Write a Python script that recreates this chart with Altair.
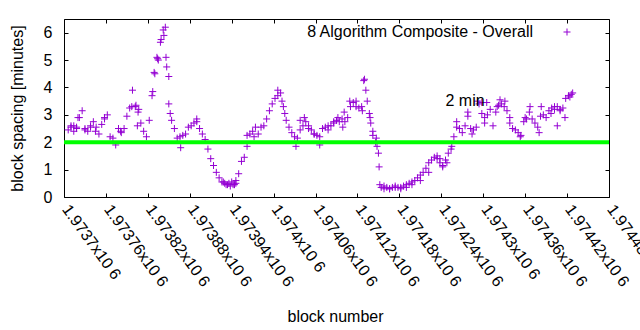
import altair as alt
import pandas as pd

# ---- data ----
block_start = 1973706
block_step = 4
main_spacing = [
    2.45, 2.55, 2.6, 2.5, 2.9, 3.15, 2.45, 2.4, 2.55, 2.75,
    2.55, 2.3, 2.65, 2.85, 3.0, 2.2, 2.15, 1.9, 2.5, 2.35,
    2.5, 2.95, 3.25, 3.9, 3.3, 3.1, 2.7, 2.4, 2.2, 2.8,
    3.7, 4.5, 5.05, 5.65, 6.1, 5.1, 4.4, 2.8, 2.5, 2.15,
    2.2, 2.25, 2.3, 2.55, 2.6, 2.7, 2.75, 2.5, 2.3, 2.1,
    1.75, 1.4, 1.15, 0.9, 0.7, 0.55, 0.5, 0.45, 0.4, 0.45,
    0.5, 0.85, 1.3, 1.45, 1.85, 2.3, 2.4, 2.55, 2.3, 2.55,
    2.6, 2.85, 3.15, 3.4, 3.6, 3.7, 3.8, 3.3, 2.8, 2.55,
    2.35, 2.2, 2.15, 2.45, 2.6, 2.75, 2.6, 2.45, 2.3, 2.25,
    2.2, 2.5, 2.55, 2.45, 2.6, 2.75, 2.8, 2.75, 2.85, 2.75,
    2.9, 3.3, 3.45, 3.3, 3.25, 3.3, 4.3, 3.5, 2.9, 2.4,
    2.0, 1.6, 0.35, 0.3, 0.35, 0.3, 0.35, 0.35, 0.35, 0.35,
    0.4, 0.45, 0.5, 0.55, 0.6, 0.7, 0.8, 0.9, 1.05, 1.25,
    1.35, 1.45, 1.4, 1.25, 1.15, 1.35, 1.6, 1.75, 2.2, 2.55,
    2.5, 2.35, 2.6, 2.95, 2.5, 2.45, 2.55, 3.4, 3.45, 2.9,
    3.0, 3.2, 2.6, 3.1, 3.35, 3.4, 3.3, 3.15, 2.9, 2.5,
    2.45, 2.35, 2.25, 2.75, 2.85, 3.1, 2.85, 2.7, 2.55, 2.95,
    3.0, 2.9, 3.15, 3.25, 3.2, 3.3, 3.2, 3.25, 3.6, 3.7,
    3.75,
]
extra_blocks = [
    1973720, 1973797, 1973803, 1973805, 1973807, 1973827, 1973829, 1973833,
    1973835, 1973839, 1973843, 1973845, 1973847, 1973850, 1973852, 1973867,
    1973890, 1973940, 1973946, 1973962, 1973972, 1974006, 1974012, 1974016,
    1974032, 1974038, 1974044, 1974066, 1974092, 1974099, 1974101, 1974109,
    1974118, 1974127, 1974129, 1974132, 1974137, 1974139, 1974142, 1974147,
    1974148, 1974151, 1974152, 1974234, 1974242, 1974255, 1974262, 1974278,
    1974284, 1974292, 1974298, 1974302, 1974305, 1974320, 1974324, 1974331,
    1974338, 1974353, 1974360, 1974367, 1974380, 1974383, 1974397, 1974406,
    1974417,
    1973710, 1973714, 1973718, 1973730, 1973738, 1973745, 1973758, 1973781,
    1973928, 1973932, 1973936, 1973944, 1974158, 1974166, 1974174, 1974182,
    1974190, 1974198, 1974210, 1974222, 1974238, 1974248, 1974050, 1974058,
    1974078, 1974086, 1974402, 1974410, 1974424, 1974428,
]
extra_spacing = [
    2.9, 3.3, 3.35, 2.6, 3.2, 3.85, 4.55, 5.1,
    5.0, 5.75, 5.9, 6.2, 4.75, 3.4, 3.05, 1.8,
    2.85, 0.55, 0.6, 2.25, 2.2, 3.9, 3.5, 3.05,
    1.85, 2.8, 2.9, 1.9, 2.9, 2.55, 3.1, 3.5,
    3.5, 3.15, 4.25, 3.9, 3.05, 2.7, 2.25, 2.15,
    1.85, 1.1, 0.45, 1.5, 1.1, 1.85, 2.75, 3.1,
    2.3, 3.5, 3.05, 2.7, 3.45, 3.3, 3.55, 3.5,
    2.7, 2.2, 2.9, 3.3, 2.35, 3.3, 3.05, 2.6,
    2.9,
    2.6, 2.4, 2.55, 2.5, 2.6, 2.4, 2.9, 2.4,
    0.55, 0.45, 0.5, 0.45, 0.4, 0.3, 0.4, 0.3,
    0.35, 0.45, 0.6, 0.9, 1.4, 1.25, 2.5, 2.3,
    2.6, 2.7, 3.3, 3.15, 3.65, 3.8,
]
tick_blocks = [1973700, 1973760, 1973820, 1973880, 1973940, 1974000, 1974060,
               1974120, 1974180, 1974240, 1974300, 1974360, 1974420, 1974480]
tick_labels = ["1.9737x10 6", "1.97376x10 6", "1.97382x10 6", "1.97388x10 6",
               "1.97394x10 6", "1.974x10 6", "1.97406x10 6", "1.97412x10 6",
               "1.97418x10 6", "1.97424x10 6", "1.9743x10 6", "1.97436x10 6",
               "1.97442x10 6", "1.97448x10 6"]
y_ticks = [0, 1, 2, 3, 4, 5, 6]
threshold = [2]
series_name = "8 Algorithm Composite - Overall"
threshold_label = "2 min"
threshold_label_pos = (1974246, 3.49)

# ---- build ----
main_blocks = [block_start + block_step * i for i in range(len(main_spacing))]
n_extra = min(len(extra_blocks), len(extra_spacing))
df = pd.DataFrame({
    "block": main_blocks + extra_blocks[:n_extra],
    "spacing": main_spacing + extra_spacing[:n_extra],
})

W, H = 545, 178
FONT = "Liberation Sans"
FS = 16
PURPLE = "#9400d3"
PLUS = "M-1,0L1,0M0,-1L0,1"

label_expr = ""
for b, l in zip(tick_blocks, tick_labels):
    label_expr += f"datum.value == {b} ? '{l}' : "
label_expr += "''"

xscale = alt.Scale(domain=[1973700, 1974480], nice=False, zero=False)
yscale = alt.Scale(domain=[0, 6.5], nice=False, zero=True)

main_x_axis = alt.Axis(orient="bottom", values=tick_blocks, labelExpr=label_expr,
                       labelAngle=54, labelAlign="left", labelBaseline="middle",
                       labelPadding=9, labelOffset=1, ticks=False, domain=False, grid=False,
                       labelOverlap=False, labelBound=False, labelFlush=False,
                       labelFont=FONT, labelFontSize=FS, labelColor="black",
                       title="block number", titleFont=FONT, titleFontSize=FS,
                       titleFontWeight="normal", titleColor="black",
                       titleX=271, titleY=119, titleAlign="center", titleBaseline="middle")
main_y_axis = alt.Axis(orient="left", values=y_ticks, ticks=False, domain=False, grid=False,
                       labelPadding=12, labelFont=FONT, labelFontSize=FS, labelColor="black",
                       title="block spacing [minutes]", titleFont=FONT, titleFontSize=FS,
                       titleFontWeight="normal", titleColor="black", titleAngle=-90,
                       titleX=-47, titleY=89, titleAlign="center", titleBaseline="middle")

green = alt.Chart(pd.DataFrame({"y": threshold})).mark_rule(
    color="#00ff00", strokeWidth=4
).encode(y=alt.Y("y:Q", scale=yscale, axis=None))

points = alt.Chart(df).mark_point(
    shape=PLUS, size=49, strokeWidth=1, color=PURPLE, filled=False, opacity=1
).encode(
    x=alt.X("block:Q", scale=xscale, axis=main_x_axis),
    y=alt.Y("spacing:Q", scale=yscale, axis=main_y_axis),
)

lab_df = pd.DataFrame({"block": [threshold_label_pos[0]], "spacing": [threshold_label_pos[1]],
                       "label": [threshold_label]})
label_2min = alt.Chart(lab_df).mark_text(
    align="left", baseline="middle", font=FONT, fontSize=FS, color="black"
).encode(
    x=alt.X("block:Q", scale=xscale,
            axis=alt.Axis(orient="top", offset=-H, values=tick_blocks, labels=False,
                          domain=False, grid=False, tickSize=4, tickColor="black", title="")),
    y=alt.Y("spacing:Q", scale=yscale,
            axis=alt.Axis(orient="right", offset=-W, values=y_ticks, labels=False,
                          domain=False, grid=False, tickSize=4, tickColor="black", title="")),
    text="label:N",
)

mirror = alt.Chart(lab_df).mark_text(text="", opacity=0).encode(
    x=alt.X("block:Q", scale=xscale,
            axis=alt.Axis(orient="bottom", offset=-H, values=tick_blocks, labels=False,
                          domain=False, grid=False, tickSize=4, tickColor="black", title="")),
    y=alt.Y("spacing:Q", scale=yscale,
            axis=alt.Axis(orient="left", offset=-W, values=y_ticks, labels=False,
                          domain=False, grid=False, tickSize=4, tickColor="black", title="")),
)

leg_df = pd.DataFrame({"name": [series_name]})
legend_text = alt.Chart(leg_df).mark_text(
    align="right", baseline="middle", font=FONT, fontSize=FS, color="black"
).encode(x=alt.value(469), y=alt.value(13), text="name:N")
legend_sym = alt.Chart(leg_df).mark_point(
    shape=PLUS, size=49, strokeWidth=1, color=PURPLE, filled=False, opacity=1
).encode(x=alt.value(503), y=alt.value(13))

chart = alt.layer(points, green, label_2min, mirror, legend_text, legend_sym).resolve_axis(
    x="independent", y="independent"
).properties(
    width=W, height=H,
    autosize=alt.AutoSizeParams(type="none"),
    padding={"left": 64, "top": 19, "right": 31, "bottom": 133},
    background="white",
).configure_view(stroke="black", strokeWidth=1)

chart.save("out.html", embed_options={"renderer": "svg", "actions": False})
